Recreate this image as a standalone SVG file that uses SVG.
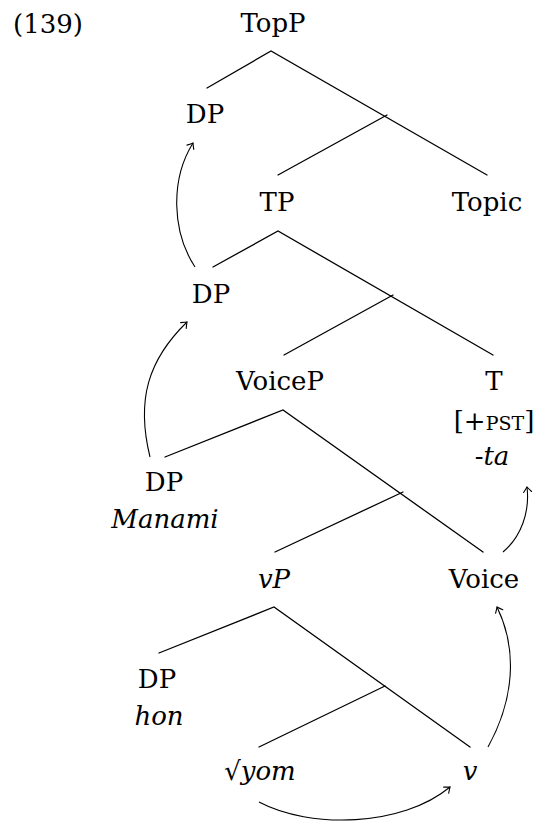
<svg xmlns="http://www.w3.org/2000/svg" width="542" height="822" viewBox="0 0 542 822">
  <style>
    .it { font-style: italic; }
    .edge { stroke: #000; stroke-width: 1.3; fill: none; stroke-linecap: round; }
    .move { stroke: #000; stroke-width: 1.1; fill: none; marker-end: url(#tip); }
  </style>
  <defs>
    <marker id="tip" markerUnits="userSpaceOnUse" markerWidth="14" markerHeight="14" viewBox="-8 -7 10 14" refX="0" refY="0" orient="auto">
      <path d="M-5,-4 Q-1.5,-1 0,0 Q-1.5,1 -5,4" stroke="#000" stroke-width="1.1" fill="none" stroke-linecap="round"/>
    </marker>
  </defs>

  <!-- tree branches -->
  <g id="edges">
    <path class="edge" d="M207,88 L271,51 L487,175"/>
    <path class="edge" d="M278,175 L387,115"/>
    <path class="edge" d="M213,267 L278,231 L493,355"/>
    <path class="edge" d="M284,355 L393,295"/>
    <path class="edge" d="M165,457 L283,410 L483,552"/>
    <path class="edge" d="M275,552 L403,492"/>
    <path class="edge" d="M159,653 L274,607 L470,747"/>
    <path class="edge" d="M259,747 L385,686"/>
  </g>

  <!-- movement arrows -->
  <g id="movement">
    <path class="move" d="M195,267 C172,232 170,180 193,143"/>
    <path class="move" d="M150,457 C136,400 148,360 187,322"/>
    <path class="move" d="M503,552 C521,537 530,512 527,487"/>
    <path class="move" d="M488,747 C514,700 518,650 497,607"/>
    <path class="move" d="M259,802 C310,829 402,827 450,787"/>
  </g>

  <g font-family="DejaVu Serif" font-size="26" text-anchor="middle" fill="#000">
    <g id="example-number"><text x="13" y="33" text-anchor="start">(139)</text></g>
    <g id="TopP"><text x="273" y="32">TopP</text></g>
    <g id="DP-top"><text x="205" y="123">DP</text></g>
    <g id="TP"><text x="277" y="211">TP</text></g>
    <g id="Topic"><text x="487" y="211">Topic</text></g>
    <g id="DP-mid"><text x="211" y="303">DP</text></g>
    <g id="VoiceP"><text x="280" y="390">VoiceP</text></g>
    <g id="T">
      <text x="494" y="390">T</text>
      <text x="494" y="430">[+<tspan font-size="19">PST</tspan>]</text>
      <text x="492" y="465">-<tspan class="it">ta</tspan></text>
    </g>
    <g id="DP-Manami">
      <text x="164" y="491">DP</text>
      <text x="165" y="528" class="it">Manami</text>
    </g>
    <g id="vP"><text x="274" y="588" class="it">vP</text></g>
    <g id="Voice"><text x="484" y="588">Voice</text></g>
    <g id="DP-hon">
      <text x="157" y="688">DP</text>
      <text x="159" y="725" class="it">hon</text>
    </g>
    <g id="root"><text x="260" y="780">√<tspan class="it">yom</tspan></text></g>
    <g id="v"><text x="470" y="780" class="it">v</text></g>
  </g>
</svg>
